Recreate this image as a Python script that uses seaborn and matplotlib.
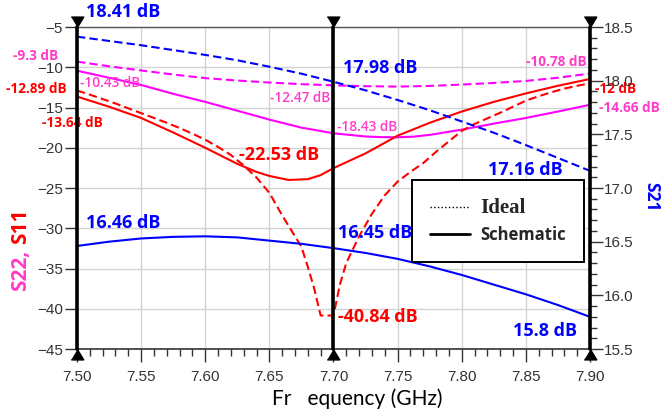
import matplotlib
matplotlib.use("Agg")
import matplotlib.pyplot as plt
import seaborn as sns
from matplotlib.ticker import MultipleLocator, FormatStrFormatter
from matplotlib.lines import Line2D

# --- data ---
freq_mid = [7.500, 7.525, 7.550, 7.575, 7.600, 7.625, 7.650, 7.675, 7.700,
            7.725, 7.750, 7.775, 7.800, 7.825, 7.850, 7.875, 7.900]
s21_ideal = [18.41, 18.37, 18.33, 18.285, 18.24, 18.19, 18.13, 18.065, 17.99,
             17.91, 17.82, 17.725, 17.62, 17.515, 17.40, 17.28, 17.16]
s21_schem = [16.46, 16.50, 16.53, 16.545, 16.55, 16.54, 16.51, 16.48, 16.44,
             16.395, 16.34, 16.27, 16.19, 16.10, 16.01, 15.91, 15.80]
s22_ideal = [-9.3, -9.88, -10.4, -10.9, -11.35, -11.65, -11.9, -12.1, -12.25,
             -12.35, -12.4, -12.32, -12.15, -11.95, -11.7, -11.3, -10.78]

freq_s22 = [7.500, 7.525, 7.550, 7.575, 7.600, 7.625, 7.650, 7.675, 7.700,
            7.725, 7.7375, 7.750, 7.7625, 7.775, 7.800, 7.825, 7.850, 7.875, 7.900]
s22_schem = [-10.43, -11.3, -12.2, -13.3, -14.3, -15.4, -16.5, -17.5, -18.2,
             -18.6, -18.68, -18.7, -18.62, -18.4, -17.75, -17.0, -16.3, -15.5, -14.66]

freq_s11 = [7.500, 7.525, 7.550, 7.575, 7.600, 7.625, 7.640, 7.650, 7.665, 7.680,
            7.690, 7.700, 7.710, 7.725, 7.750, 7.775, 7.800, 7.825, 7.850, 7.875, 7.900]
s11_schem = [-13.64, -14.9, -16.3, -18.1, -20.0, -22.0, -23.0, -23.5, -24.0, -23.9,
             -23.4, -22.53, -21.8, -20.7, -18.5, -16.9, -15.5, -14.3, -13.25, -12.3, -11.46]

freq_s11_ideal = [7.50, 7.51, 7.52, 7.53, 7.54, 7.55, 7.56, 7.57, 7.58, 7.59,
                  7.60, 7.61, 7.62, 7.63, 7.64, 7.65, 7.66, 7.67, 7.675, 7.68,
                  7.685, 7.69, 7.70, 7.705, 7.71, 7.72, 7.73, 7.74, 7.75, 7.76,
                  7.77, 7.78, 7.79, 7.80, 7.81, 7.82, 7.83, 7.84, 7.85, 7.86,
                  7.87, 7.88, 7.89, 7.90]
s11_ideal = [-12.89, -13.4, -13.95, -14.5, -15.1, -15.7, -16.3, -16.9, -17.55, -18.25,
             -19.0, -19.9, -20.9, -22.2, -23.7, -25.6, -28.4, -31.0, -32.3, -34.8,
             -37.5, -40.84, -40.84, -37.0, -34.3, -31.0, -28.2, -25.9, -24.2, -23.0,
             -21.9, -20.5, -19.2, -17.9, -17.05, -16.35, -15.65, -14.9, -14.15, -13.6,
             -13.1, -12.65, -12.3, -12.0]

marker_freqs = [7.50, 7.70, 7.90]

BLUE = "#0000ff"
RED = "#ff0000"
MAG = "#ff00ff"
PINK = "#ff3cc8"

# marker readouts: text, x, y, colour, size, weight, axis ('l' = dB, 'r' = S21)
readouts = [
    ("18.41 dB", 7.507, 18.64, BLUE, 13, "bold", "r"),
    ("17.98 dB", 7.7074, 18.117, BLUE, 13, "bold", "r"),
    ("17.16 dB", 7.8205, 17.164, BLUE, 13, "bold", "r"),
    ("16.46 dB", 7.507, 16.678, BLUE, 13, "bold", "r"),
    ("16.45 dB", 7.7035, 16.58, BLUE, 13, "bold", "r"),
    ("15.8 dB", 7.84, 15.668, BLUE, 13, "bold", "r"),
    ("-9.3 dB", 7.450, -8.6, PINK, 9.8, "bold", "l"),
    ("-12.89 dB", 7.445, -12.7, RED, 9.8, "bold", "l"),
    ("-13.64 dB", 7.473, -16.9, RED, 9.8, "bold", "l"),
    ("-10.43 dB", 7.502, -11.96, PINK, 9.8, "semibold", "l"),
    ("-12.47 dB", 7.6505, -13.82, PINK, 9.8, "semibold", "l"),
    ("-18.43 dB", 7.7027, -17.42, PINK, 9.8, "semibold", "l"),
    ("-10.78 dB", 7.850, -9.35, PINK, 9.8, "bold", "l"),
    ("-12 dB", 7.9039, -12.7, RED, 9.8, "bold", "l"),
    ("-14.66 dB", 7.907, -15.06, PINK, 9.8, "bold", "l"),
    ("-22.53 dB", 7.6263, -20.9, RED, 13, "bold", "l"),
    ("-40.84 dB", 7.7035, -41.0, RED, 13, "bold", "l"),
]

sns.set_style("white")
plt.rcParams["font.family"] = ["Liberation Sans", "DejaVu Sans"]

fig = plt.figure(figsize=(6.62, 4.18), dpi=100)
ax = fig.add_axes([0.1163, 0.165, 0.7749, 0.7704])
ax2 = ax.twinx()

dash = (0, (4, 2))
sns.lineplot(x=freq_mid, y=s22_ideal, ax=ax, color=MAG, lw=1.5, linestyle=dash, legend=False)
sns.lineplot(x=freq_s22, y=s22_schem, ax=ax, color=MAG, lw=1.5, legend=False)
sns.lineplot(x=freq_s11_ideal, y=s11_ideal, ax=ax, color=RED, lw=1.5, linestyle=dash, legend=False)
sns.lineplot(x=freq_s11, y=s11_schem, ax=ax, color=RED, lw=1.5, legend=False)
sns.lineplot(x=freq_mid, y=s21_ideal, ax=ax2, color=BLUE, lw=1.5, linestyle=dash, legend=False)
sns.lineplot(x=freq_mid, y=s21_schem, ax=ax2, color=BLUE, lw=1.5, legend=False)

ax.set_xlim(7.5, 7.9)
ax.set_ylim(-45, -5)
ax2.set_ylim(15.5, 18.5)

ax.xaxis.set_major_locator(MultipleLocator(0.05))
ax.xaxis.set_minor_locator(MultipleLocator(0.01))
ax.xaxis.set_major_formatter(FormatStrFormatter("%.2f"))
ax.yaxis.set_major_locator(MultipleLocator(5))
ax2.yaxis.set_major_locator(MultipleLocator(0.5))
ax2.yaxis.set_minor_locator(MultipleLocator(0.1))
ax2.yaxis.set_major_formatter(FormatStrFormatter("%.1f"))

ax.grid(True, which="major", color="#d3d3d3", lw=1)
ax.set_axisbelow(True)

ax.tick_params(axis="x", which="major", length=9, width=1, pad=6, labelsize=11,
               color="#333333", labelcolor="#333333", bottom=True)
ax.tick_params(axis="x", which="minor", length=5, width=1, color="#333333", bottom=True)
ax.tick_params(axis="y", which="major", length=9, width=1, pad=1, labelsize=11,
               color="#333333", labelcolor="#333333", left=True)
ax2.tick_params(axis="y", which="major", length=9, width=1, pad=1, labelsize=11,
                color="#333333", labelcolor="#333333", right=True)
ax2.tick_params(axis="y", which="minor", length=5, width=1, color="#333333", right=True)

for a in (ax, ax2):
    for s in a.spines.values():
        s.set_visible(False)
ax.spines["top"].set_visible(True)
ax.spines["top"].set_color("#555555")
ax.spines["top"].set_linewidth(1)
ax.spines["bottom"].set_visible(True)
ax.spines["bottom"].set_color("#333333")
ax.spines["bottom"].set_linewidth(1.2)

# marker lines with triangles
tri_down = [(-0.6, 1.0), (0.6, 1.0), (0.0, 0.0)]
tri_up = [(-0.6, -1.0), (0.6, -1.0), (0.0, 0.0)]
for f in marker_freqs:
    ax2.axvline(f, color="black", lw=2.6, clip_on=False, zorder=6)
    ax2.plot([f], [18.5], marker=tri_down, ms=15, color="black", clip_on=False, zorder=7)
    ax2.plot([f], [15.5], marker=tri_up, ms=15, color="black", clip_on=False, zorder=7)

for txt, x, y, c, size, w, side in readouts:
    target = ax2 if side == "r" else ax
    target.text(x, y, txt, color=c, fontsize=size, fontweight=w, family="Open Sans",
                ha="left", va="center", clip_on=False, zorder=8)

ax.set_xlabel("Fr   equency (GHz)", family="Lato", fontsize=15, color="black")
ax.xaxis.set_label_coords(0.546, -0.121)
ax.set_ylabel("")

fig.text(0.0317, 0.352, "S22,", rotation=90, color=PINK, fontsize=15, fontweight="bold",
         family="Open Sans", ha="center", va="center")
fig.text(0.0317, 0.459, "S11", rotation=90, color=RED, fontsize=15, fontweight="bold",
         family="Open Sans", ha="center", va="center")
fig.text(0.984, 0.5287, "S21", rotation=-90, color=BLUE, fontsize=12.5, fontweight="bold",
         family="Open Sans", ha="center", va="center")

handles = [Line2D([], [], color="black", ls=":", lw=1),
           Line2D([], [], color="black", lw=2)]
leg = ax2.legend(handles, ["Ideal", "Schematic"], loc="upper left",
                 bbox_to_anchor=(0.653, 0.276, 0.335, 0.249), mode="expand",
                 fontsize=12, frameon=True, fancybox=False, framealpha=1,
                 edgecolor="black", borderpad=1.1, labelspacing=0.45,
                 handlelength=2.4, handletextpad=0.6, borderaxespad=0)
leg.get_frame().set_linewidth(1.4)
leg.set_zorder(9)
t_ideal, t_schem = leg.get_texts()
t_ideal.set_family("Liberation Serif")
t_ideal.set_fontweight("bold")
t_ideal.set_fontsize(15)
t_schem.set_family("Open Sans")
t_schem.set_fontweight("bold")

fig.savefig("out.png", dpi=100)
